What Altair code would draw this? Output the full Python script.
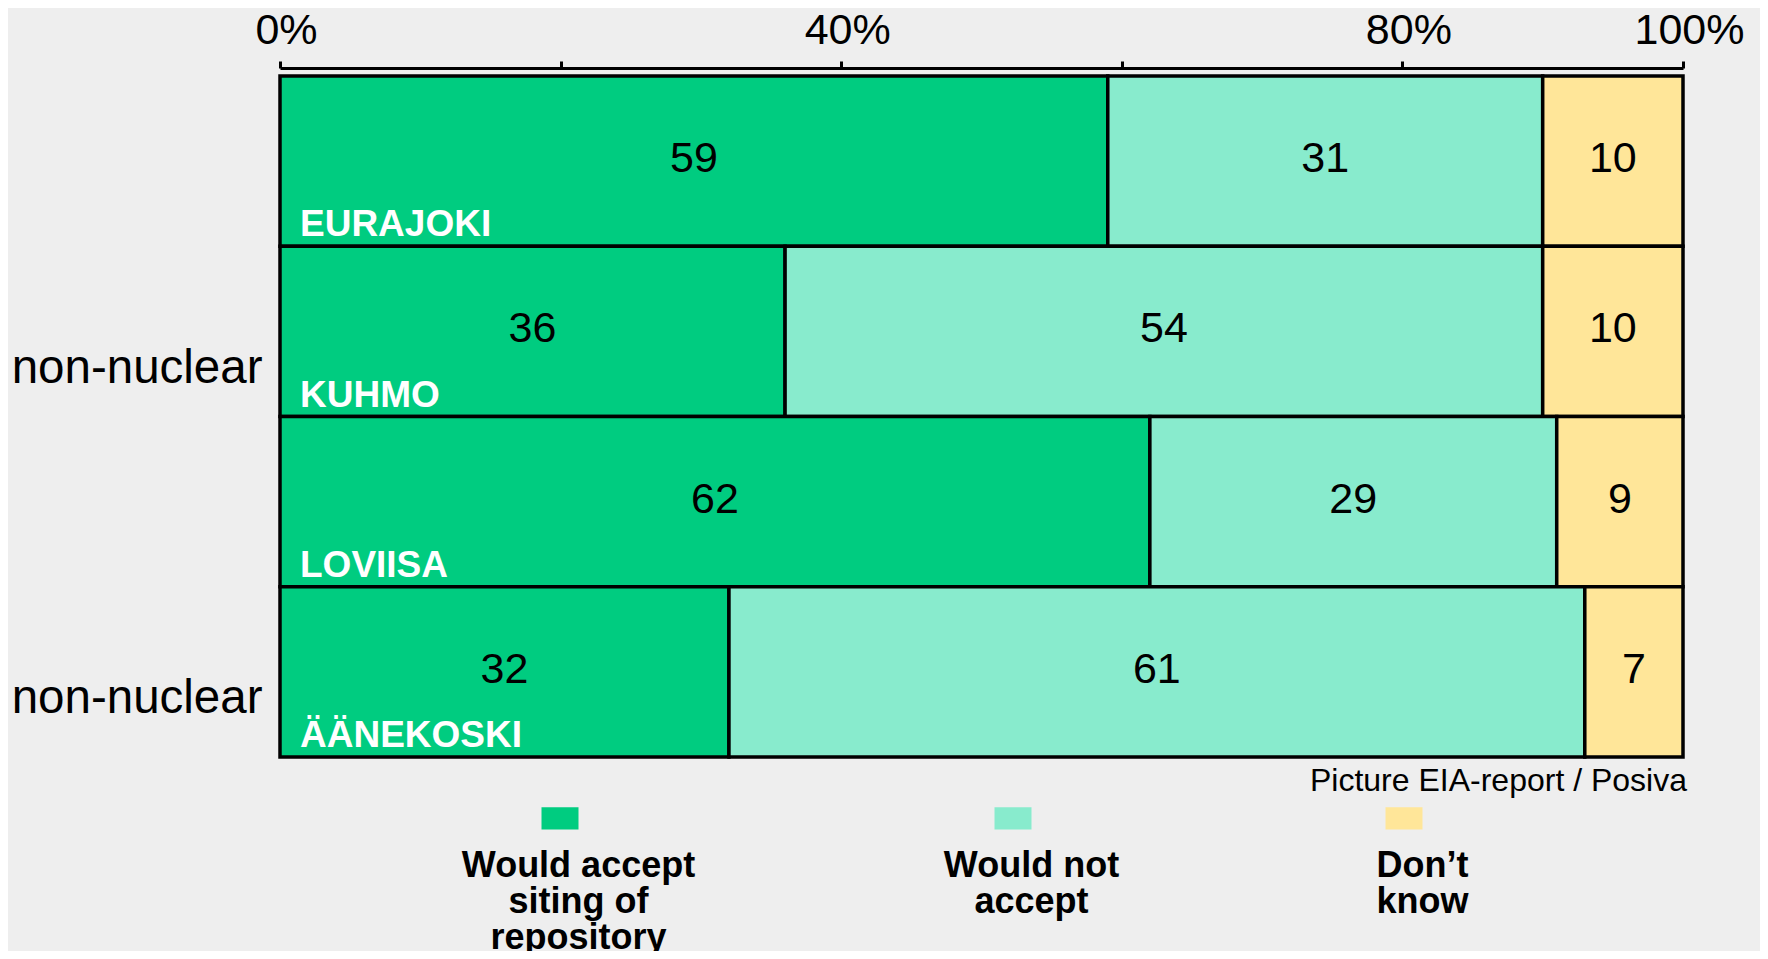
import json
import altair as alt
import pandas as pd

# ---- data ----
municipalities = ["EURAJOKI", "KUHMO", "LOVIISA", "ÄÄNEKOSKI"]
reactor_type = ["", "non-nuclear", "", "non-nuclear"]
responses = ["Would accept\nsiting of\nrepository", "Would not\naccept", "Don’t\nknow"]
accept = [59, 36, 62, 32]
not_accept = [31, 54, 29, 61]
dont_know = [10, 10, 9, 7]
colors = ["#00CC80", "#88EBCD", "#FFE699"]
tick_values = [0, 20, 40, 60, 80, 100]
tick_labels = ["0%", "", "40%", "", "80%", "100%"]
source = "Picture EIA-report / Posiva"

# ---- tables built from the arrays ----
rows = []
for i, m in enumerate(municipalities):
    start = 0
    for r, v in zip(responses, [accept[i], not_accept[i], dont_know[i]]):
        rows.append(dict(municipality=m, response=r, value=v,
                         start=start, end=start + v, mid=start + v / 2,
                         first=(r == responses[0])))
        start += v
df = pd.DataFrame(rows)
caption_df = pd.DataFrame({"caption": [source], "pos": [tick_values[-1]],
                           "municipality": [municipalities[-1]]})


def ternary(keys, labels, default):
    expr = json.dumps(default)
    for k, l in reversed(list(zip(keys, labels))):
        expr = f"datum.value == {json.dumps(k)} ? {json.dumps(l)} : ({expr})"
    return expr


x_label_expr = ternary(tick_values, tick_labels, "")
y_label_expr = ternary(municipalities, reactor_type, "")

FONT = "Liberation Sans"

x_scale = alt.Scale(domain=[0, 100], nice=False, zero=True)
y_scale = alt.Scale(paddingInner=0, paddingOuter=0.0465)

x_axis = alt.Axis(orient="top", values=tick_values, labelExpr=x_label_expr,
                  title=None, grid=False, domainColor="black", domainWidth=3,
                  tickColor="black", tickWidth=3, tickSize=7,
                  labelFont=FONT, labelFontSize=43, labelColor="black",
                  labelPadding=9, labelOffset=6, labelFlush=False, labelOverlap=False)
y_axis = alt.Axis(title=None, domain=False, ticks=False, grid=False, labelExpr=y_label_expr,
                  labelFont=FONT, labelFontSize=47.5, labelColor="black",
                  labelPadding=18, labelBaseline="alphabetic", labelLimit=400,
                  labelOffset={"condition": {"test": "datum.value == 'KUHMO'", "value": 52},
                               "value": 41})

bars = alt.Chart(df).mark_bar(stroke="black", strokeWidth=3.5).encode(
    x=alt.X("start:Q", scale=x_scale, axis=x_axis),
    x2="end:Q",
    y=alt.Y("municipality:N", sort=municipalities, scale=y_scale, axis=y_axis),
    color=alt.Color("response:N", sort=responses,
                    scale=alt.Scale(domain=responses, range=colors),
                    legend=alt.Legend(orient="none", legendX=243, legendY=726.7,
                                      direction="horizontal", title=None, padding=0,
                                      symbolType="M-1,-0.33L1,-0.33L1,0.87L-1,0.87Z",
                                      symbolSize=1369, symbolStrokeWidth=0, symbolOpacity=1,
                                      symbolOffset=18.5,
                                      labelFont=FONT, labelFontSize=36, labelFontWeight="bold",
                                      labelColor="black", labelAlign="center", labelBaseline="top",
                                      labelOffset=0, labelLimit=600, columnPadding=247,
                                      labelExpr="slice(split('\\n' + datum.label + '\\n\\n', '\\n'), 0, 4)")),
)

values_text = alt.Chart(df).mark_text(font=FONT, fontSize=43, color="black",
                                      baseline="middle", align="center", dy=-2).encode(
    x=alt.X("mid:Q", scale=x_scale, axis=x_axis),
    y=alt.Y("municipality:N", sort=municipalities, scale=y_scale, axis=y_axis),
    text="value:Q",
)

city_text = alt.Chart(df).transform_filter("datum.first").mark_text(
    font=FONT, fontSize=37, fontWeight="bold", color="white",
    align="left", baseline="alphabetic", dx=20, dy=-10).encode(
    x=alt.X("start:Q", scale=x_scale, axis=x_axis),
    y=alt.Y("municipality:N", sort=municipalities, scale=y_scale, axis=y_axis, bandPosition=1),
    text="municipality:N",
)

caption = alt.Chart(caption_df).mark_text(
    font=FONT, fontSize=32, color="black", align="right", baseline="top", dx=4, dy=9).encode(
    x=alt.X("pos:Q", scale=x_scale, axis=x_axis),
    y=alt.Y("municipality:N", sort=municipalities, scale=y_scale, axis=y_axis, bandPosition=1),
    text="caption:N",
)

chart = alt.layer(bars, values_text, city_text, caption).properties(
    width=1403, height=697,
    autosize=alt.AutoSizeParams(type="none"),
    padding={"left": 272, "top": 60, "right": 77, "bottom": 186},
).configure(background="#eeeeee", font=FONT,
            style={"guide-label": {"lineHeight": 36}}).configure_view(strokeWidth=0)

chart.save("out.html", embed_options={"renderer": "svg", "actions": False})
